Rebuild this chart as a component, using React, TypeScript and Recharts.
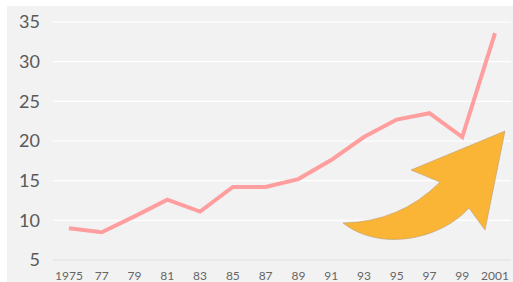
import React from 'react';
import { LineChart, Line, XAxis, YAxis, CartesianGrid } from 'recharts';

const years = ['1975', '77', '79', '81', '83', '85', '87', '89', '91', '93', '95', '97', '99', '2001'];
const values = [9.0, 8.5, 10.5, 12.6, 11.1, 14.2, 14.2, 15.2, 17.6, 20.5, 22.7, 23.5, 20.5, 33.6];
const yTicks = [5, 10, 15, 20, 25, 30, 35];

const data = years.map((year, i) => ({ year, value: values[i] }));

const Arrow = () => (
    <svg width={513} height={282} style={{ position: 'absolute', left: 0, top: 0, pointerEvents: 'none' }}>
        <path
            d="M343,223 Q400,222 440,182 L411,170 L505,131 L485,230 L469,208 C440,240 380,252 343,223 Z"
            fill="#FAB436"
            stroke="#b8a07a"
            strokeWidth={0.6}
        />
    </svg>
);

export default function App() {
    return (
        <div style={{ position: 'absolute', left: 0, top: 0, width: 513, height: 282, background: '#fff' }}>
            <div style={{ position: 'absolute', left: 7, top: 6, width: 506, height: 276, background: '#f2f2f2' }}>
                <LineChart width={506} height={276} data={data} margin={{ top: 16, right: 2, bottom: 0, left: 0 }}>
                    <CartesianGrid vertical={false} stroke="#ffffff" strokeWidth={1.2} />
                    <XAxis
                        dataKey="year"
                        padding={{ left: 16, right: 16 }}
                        height={22}
                        tickSize={0}
                        tickMargin={11}
                        axisLine={{ stroke: '#d9d9d9' }}
                        tick={{ fontSize: 12, fill: '#666666', fontFamily: 'Lato' }}
                        interval={0}
                    />
                    <YAxis
                        domain={[5, 35]}
                        ticks={yTicks}
                        width={46}
                        axisLine={false}
                        tickLine={false}
                        tickSize={0}
                        tickMargin={13}
                        tick={{ fontSize: 18, fill: '#595959', fontFamily: 'Lato' }}
                    />
                    <Line
                        type="linear"
                        dataKey="value"
                        stroke="#FF9E9E"
                        strokeWidth={4}
                        dot={false}
                        isAnimationActive={false}
                    />
                </LineChart>
            </div>
            <Arrow />
        </div>
    );
}
